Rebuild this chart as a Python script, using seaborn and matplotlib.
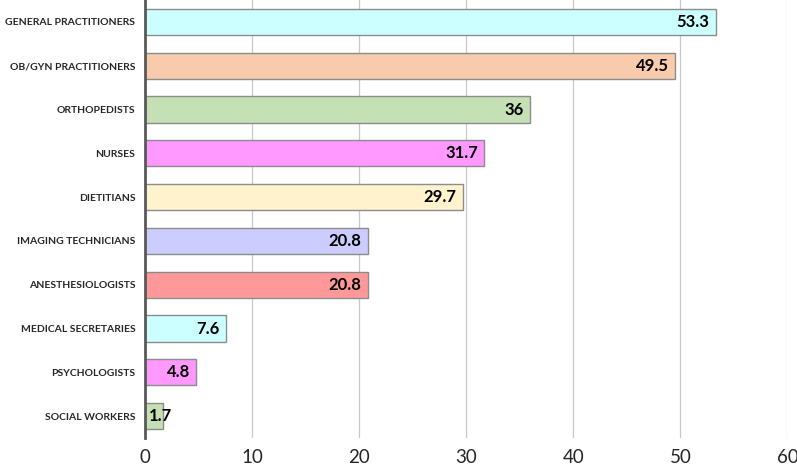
import matplotlib
matplotlib.use("Agg")
import matplotlib.pyplot as plt
import seaborn as sns
import pandas as pd

# data
professions = ["GENERAL PRACTITIONERS", "OB/GYN PRACTITIONERS", "ORTHOPEDISTS", "NURSES",
               "DIETITIANS", "IMAGING TECHNICIANS", "ANESTHESIOLOGISTS",
               "MEDICAL SECRETARIES", "PSYCHOLOGISTS", "SOCIAL WORKERS"]
values = [53.3, 49.5, 36, 31.7, 29.7, 20.8, 20.8, 7.6, 4.8, 1.7]
value_labels = ["53.3", "49.5", "36", "31.7", "29.7", "20.8", "20.8", "7.6", "4.8", "1.7"]
bar_colors = ["#CCFFFF", "#F8CBAD", "#C5E0B4", "#FF99FF", "#FFF2CC",
              "#CCCCFF", "#FF9999", "#CCFFFF", "#FF99FF", "#C5E0B4"]
x_ticks = [0, 10, 20, 30, 40, 50, 60]

df = pd.DataFrame({"profession": professions, "value": values})

sns.set_style("white")
plt.rcParams["font.family"] = ["Lato", "DejaVu Sans"]

fig = plt.figure(figsize=(7.97, 4.71), dpi=100)
ax = fig.add_axes([0.182, 0.07, 0.806, 0.93])

sns.barplot(data=df, x="value", y="profession", hue="profession", palette=bar_colors,
            saturation=1, legend=False, width=0.6, edgecolor="#8c8c8c", linewidth=1,
            ax=ax, zorder=3)

# labels sit at the inner end of the bar; short bars get them from the base
for i, (v, lab) in enumerate(zip(values, value_labels)):
    if v > 4:
        ax.text(v - 0.6, i, lab, ha="right", va="center", fontsize=12,
                fontweight="bold", color="black", zorder=4)
    else:
        ax.text(0.4, i, lab, ha="left", va="center", fontsize=12,
                fontweight="bold", color="black", zorder=4)

ax.set_xlim(0, 60)
ax.set_xticks(x_ticks)
ax.set_xticklabels([str(t) for t in x_ticks], fontsize=13.5)
ax.tick_params(axis="x", length=0, pad=8)
ax.tick_params(axis="y", length=0, pad=7)
for lbl in ax.get_yticklabels():
    lbl.set_fontweight("bold")
    lbl.set_fontsize(7.5)
ax.set_xlabel("")
ax.set_ylabel("")

ax.grid(axis="x", color="#c8c8c8", linewidth=0.9, zorder=0)
ax.grid(axis="y", visible=False)
for side in ["top", "right", "bottom"]:
    ax.spines[side].set_visible(False)
ax.spines["left"].set_color("#595959")
ax.spines["left"].set_linewidth(2)
ax.spines["left"].set_zorder(5)

fig.savefig("out.png", dpi=100)
